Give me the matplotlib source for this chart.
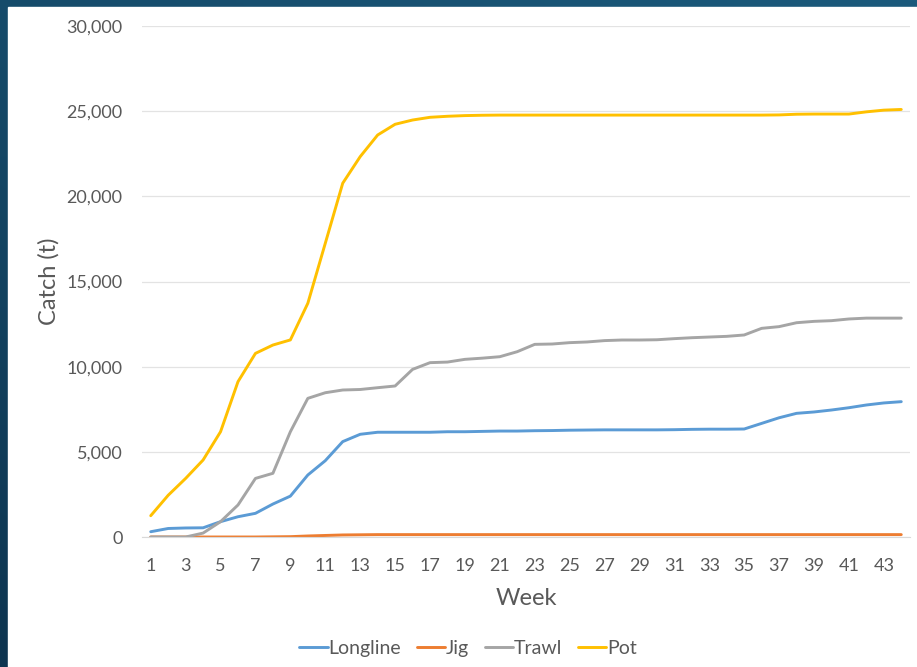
import numpy as np
import matplotlib.pyplot as plt
from matplotlib.colors import LinearSegmentedColormap
from matplotlib.ticker import FuncFormatter

plt.rcParams['font.family'] = ['Lato', 'DejaVu Sans']

# Cumulative catch by gear type, weeks 1-44
weeks = list(range(1, 45))
longline = [310, 500, 530, 540, 900, 1190, 1390, 1935, 2400, 3640,
            4480, 5600, 6030, 6150, 6150, 6150, 6150, 6180, 6180, 6200,
            6220, 6220, 6240, 6250, 6270, 6280, 6290, 6290, 6290, 6290,
            6300, 6320, 6330, 6330, 6340, 6670, 7000, 7260, 7340, 7455,
            7590, 7750, 7870, 7945]
jig = [0, 0, 0, 0, 0, 0, 0, 10, 20, 60,
       90, 120, 130, 140, 140, 140, 140, 140, 140, 140,
       140, 140, 140, 140, 140, 140, 140, 140, 140, 140,
       140, 140, 140, 140, 140, 140, 140, 140, 140, 140,
       140, 140, 140, 140]
trawl = [0, 0, 0, 230, 900, 1880, 3440, 3740, 6180, 8140,
         8470, 8630, 8660, 8765, 8865, 9840, 10235, 10270, 10430, 10500,
         10585, 10880, 11310, 11330, 11410, 11450, 11530, 11565, 11565, 11580,
         11645, 11700, 11740, 11780, 11860, 12250, 12350, 12580, 12660, 12700,
         12800, 12850, 12850, 12850]
pot = [1250, 2450, 3440, 4520, 6180, 9120, 10780, 11270, 11570, 13720,
       17240, 20770, 22330, 23600, 24230, 24480, 24640, 24700, 24740, 24760,
       24770, 24770, 24770, 24770, 24770, 24770, 24770, 24770, 24770, 24770,
       24770, 24770, 24770, 24770, 24770, 24770, 24780, 24820, 24830, 24830,
       24830, 24960, 25060, 25100]

series = [("Longline", longline, "#5B9BD5"),
          ("Jig", jig, "#ED7D31"),
          ("Trawl", trawl, "#A5A5A5"),
          ("Pot", pot, "#FFC000")]

fig = plt.figure(figsize=(9.17, 6.67), dpi=100)

# dark blue slide frame behind the chart
bg = fig.add_axes([0, 0, 1, 1], zorder=-2)
grad = np.linspace(0, 1, 256)
frame = np.add.outer(grad[::-1] * 0.6, grad * 0.4)
bg.imshow(frame, cmap=LinearSegmentedColormap.from_list("frame", ["#0e3550", "#1b5a7c"]),
          aspect="auto", extent=[0, 1, 0, 1])
bg.add_patch(plt.Rectangle((8 / 917, 0), 1, 1 - 7 / 667, color="white"))
bg.set_xlim(0, 1)
bg.set_ylim(0, 1)
bg.axis("off")

ax = fig.add_axes([142 / 917, 1 - 537 / 667, 768 / 917, 511 / 667])
ax.set_facecolor("none")

for name, vals, color in series:
    ax.plot(weeks, vals, color=color, lw=2.1, label=name, solid_capstyle="round")

ax.set_xlim(0.5, 44.5)
ax.set_ylim(0, 30000)
ax.set_xticks(weeks[::2])
ax.set_yticks(range(0, 30001, 5000))
ax.yaxis.set_major_formatter(FuncFormatter(lambda v, p: f"{int(v):,}"))
ax.grid(axis="y", color="#E3E3E3", lw=0.9)
ax.set_axisbelow(True)
for side in ["top", "right", "left"]:
    ax.spines[side].set_visible(False)
ax.spines["bottom"].set_color("#D9D9D9")
ax.tick_params(length=0, labelsize=13, colors="#595959")
ax.tick_params(axis="x", pad=15)
ax.tick_params(axis="y", pad=14)

ax.set_xlabel("Week", fontsize=17, color="#595959", labelpad=10)
ax.set_ylabel("Catch (t)", fontsize=17, color="#595959", labelpad=5)

# legend sits centred under the whole chart area, not the plot area
ax.legend(loc="center", bbox_to_anchor=(0.4245, -0.218), ncol=4, frameon=False,
          fontsize=14, labelcolor="#595959", handlelength=1.45,
          handletextpad=0.05, columnspacing=0.8)

fig.savefig("out.png", dpi=100)
